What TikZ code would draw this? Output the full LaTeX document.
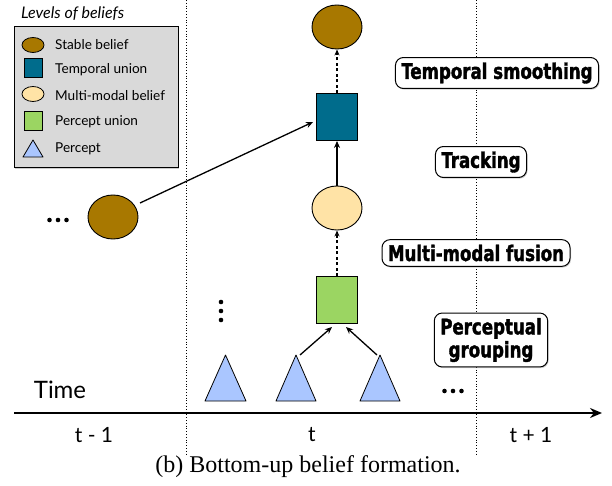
\documentclass[tikz,border=0pt]{standalone}
\usepackage{fontspec}
\setmainfont{Liberation Serif}
\newfontfamily\gill{Lato}
\newfontfamily\fut[FakeStretch=0.86,FakeBold=1.6]{DejaVu Sans Condensed}
\usetikzlibrary{shapes.geometric,arrows.meta,shadows}
\definecolor{brownb}{RGB}{168,120,0}
\definecolor{tealb}{RGB}{0,108,140}
\definecolor{creamb}{RGB}{255,227,166}
\definecolor{greenb}{RGB}{155,213,98}
\definecolor{blueb}{RGB}{170,198,255}
\definecolor{legb}{RGB}{217,217,217}
\tikzset{
  ell/.style={ellipse,draw=black,line width=0.9pt,minimum width=50,minimum height=44,inner sep=0},
  sq/.style={rectangle,draw=black,line width=0.9pt,minimum width=41,minimum height=47,inner sep=0},
  lell/.style={ellipse,draw=black,line width=0.8pt,minimum width=22,minimum height=15,inner sep=0},
  lsq/.style={rectangle,draw=black,line width=0.8pt,minimum width=18,minimum height=19,inner sep=0},
  tri/.style={draw=black,line width=0.8pt,fill=blueb,line join=round},
  lab/.style={draw=black,line width=1pt,fill=white,rounded corners=8pt,font=\fut\bfseries\fontsize{21.5}{23}\selectfont,
    inner xsep=6pt,inner ysep=5pt,align=center,drop shadow={shadow xshift=1pt,shadow yshift=-1.2pt,opacity=0.4}},
  legtxt/.style={anchor=west,font=\gill\fontsize{13.6}{15}\selectfont,inner sep=0},
  arr/.style={-{Stealth[length=7pt,width=6pt]},line width=1.3pt},
  darr/.style={-{Stealth[length=6pt,width=5pt]},line width=1.2pt,dash pattern=on 3pt off 2.5pt},
  sep/.style={line width=0.8pt,dash pattern=on 0.8pt off 2pt},
  tlab/.style={font=\gill\fontsize{21}{22}\selectfont,inner sep=0}
}
\newcommand{\hdots}{\tikz[x=1pt,y=1pt]{\fill (0,0) circle (2.3pt) (8.5,0) circle (2.3pt) (17,0) circle (2.3pt);}}
\newcommand{\vdotsb}{\tikz[x=1pt,y=1pt]{\fill (0,0) circle (2.3pt) (0,9) circle (2.3pt) (0,18) circle (2.3pt);}}
\begin{document}
\begin{tikzpicture}[x=1pt,y=-1pt]
\useasboundingbox (0,0) rectangle (612,486);
% separators
\draw[sep] (186,0) -- (186,456);
\draw[sep] (476,0) -- (476,456);
% legend
\node[font=\gill\itshape\fontsize{16}{18}\selectfont,anchor=west,inner sep=0] (legtitle) at (21,14) {Levels of beliefs};
\node[draw=black,line width=0.9pt,fill=legb,minimum width=164,minimum height=141,inner sep=0,anchor=north west,
  drop shadow={shadow xshift=1pt,shadow yshift=-1.2pt,opacity=0.4}] (legbox) at (14,26) {};
\node[lell,fill=brownb] (l1) at (33,45) {};
\node[legtxt] (t1) at (55,45) {Stable belief};
\node[lsq,fill=tealb] (l2) at (33,68) {};
\node[legtxt] (t2) at (55,70) {Temporal union};
\node[lell,fill=creamb] (l3) at (33,94) {};
\node[legtxt] (t3) at (55,96) {Multi-modal belief};
\node[lsq,fill=greenb] (l4) at (33,121) {};
\node[legtxt] (t4) at (55,122) {Percept union};
\draw[tri] (23,157) -- (33,140) -- (43,157) -- cycle;
\node[legtxt] (t5) at (55,149) {Percept};
% main column
\node[ell,fill=brownb] (stable) at (337,27) {};
\node[sq,fill=tealb] (tunion) at (337,117) {};
\node[ell,fill=creamb] (mm) at (337,208) {};
\node[sq,fill=greenb] (punion) at (337,300) {};
\node[ell,fill=brownb] (prev) at (113,217) {};
% triangles
\draw[tri] (205,401) -- (225.5,355) -- (246,401) -- cycle;
\draw[tri] (276,401) -- (296,355) -- (316,401) -- cycle;
\draw[tri] (360,401) -- (380,355) -- (400,401) -- cycle;
\coordinate (p2) at (300,355);
\coordinate (p3) at (377,355);
\coordinate (g1) at (332,327);
\coordinate (g2) at (346,327);
% arrows
\draw[darr] (tunion.north) -- (stable.south);
\draw[arr] (mm.north) -- (tunion.south);
\draw[darr] (punion.north) -- (mm.south);
\draw[arr] (p2) -- (g1);
\draw[arr] (p3) -- (g2);
\coordinate (ps) at (140,203);
\coordinate (te) at (313,122);
\draw[arr] (ps) -- (te);
% dots
\node[inner sep=0] (d1) at (58,220) {\hdots};
\node[inner sep=0] (d2) at (453,391) {\hdots};
\node[inner sep=0] (d3) at (221,311) {\vdotsb};
% labels
\node[lab] (ls) at (497,73) {Temporal smoothing};
\node[lab] (lt) at (481,162) {Tracking};
\node[lab] (lm) at (476,253) {Multi-modal fusion};
\node[lab] (lp) at (491,340) {Perceptual\\grouping};
% time axis
\coordinate (ax0) at (14,413);
\coordinate (ax1) at (602,413);
\draw[line width=2.4pt,-{Stealth[length=12pt,width=10pt]}] (ax0) -- (ax1);
\node[tlab,font=\gill\fontsize{24}{26}\selectfont] (time) at (60,390) {Time};
\node[tlab] (tm) at (94,435) {t - 1};
\node[tlab] (tt) at (312,435) {t};
\node[tlab] (tp) at (531,435) {t + 1};
\node[inner sep=0,font=\fontsize{24}{26}\selectfont] (cap) at (308,467) {(b)\ Bottom-up belief formation.};
\end{tikzpicture}
\end{document}
